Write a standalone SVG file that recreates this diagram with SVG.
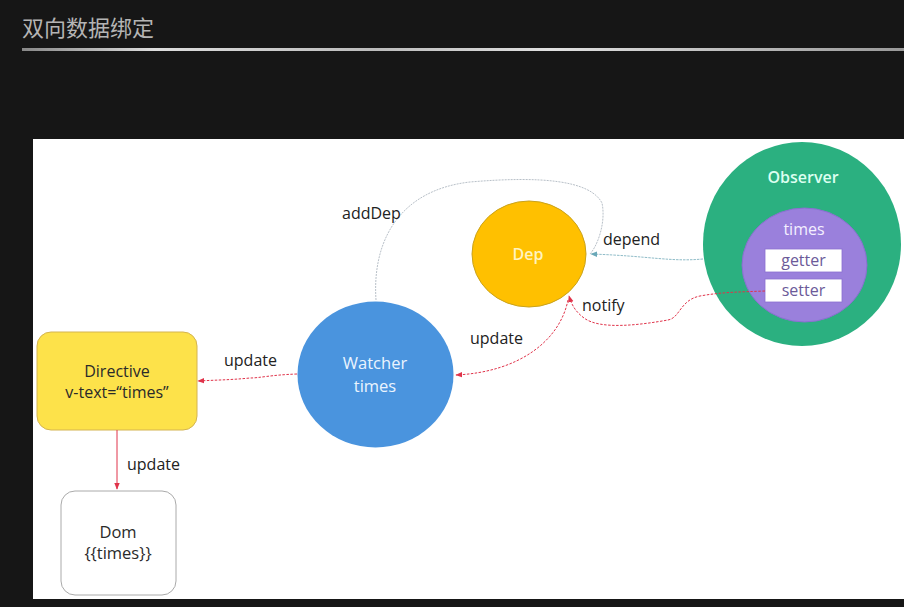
<svg xmlns="http://www.w3.org/2000/svg" width="904" height="607" viewBox="0 0 904 607">
<defs>
<style>
text{font-family:"Open Sans","Liberation Sans","Noto Sans CJK SC",sans-serif;}
.lbl{font-size:16px;fill:#222;}
.ctr{text-anchor:middle;}
.red{fill:none;stroke:#e0334a;stroke-width:1;stroke-dasharray:2.5 1.5;}
</style>
<marker id="ar" viewBox="0 0 10 10" refX="9" refY="5" markerWidth="7" markerHeight="7" orient="auto"><path d="M0,1 L10,5 L0,9 z" fill="#e0334a"/></marker>
<marker id="at" viewBox="0 0 10 10" refX="9" refY="5" markerWidth="7" markerHeight="7" orient="auto"><path d="M0,1 L10,5 L0,9 z" fill="#6aa8b8"/></marker>
<linearGradient id="ln" x1="0" y1="0" x2="1" y2="0">
<stop offset="0" stop-color="#888"/><stop offset="0.15" stop-color="#ddd"/><stop offset="0.4" stop-color="#bbb"/><stop offset="0.6" stop-color="#e0e0e0"/><stop offset="1" stop-color="#999"/>
</linearGradient>
</defs>
<rect width="904" height="607" fill="#161616"/>
<text x="22" y="36" font-size="22" fill="#b4b4b4" font-family="Noto Sans CJK SC, sans-serif">双向数据绑定</text>
<rect x="22" y="48" width="882" height="3" fill="url(#ln)"/>
<rect x="33" y="139" width="871" height="460" fill="#ffffff"/>

<g id="dep">
<ellipse cx="529" cy="254" rx="57" ry="53" fill="#ffc000" stroke="#c9a21c" stroke-width="1"/>
<text class="ctr" x="528" y="260" font-size="16" font-weight="600" fill="#fff3c0">Dep</text>
</g>

<g id="watcher">
<ellipse cx="375.5" cy="374.5" rx="78" ry="73" fill="#4a94de"/>
<text class="ctr" x="375" y="369" font-size="16.5" fill="#eaf4ff">Watcher</text>
<text class="ctr" x="375" y="392" font-size="16.5" fill="#eaf4ff">times</text>
</g>

<g id="observer">
<ellipse cx="802" cy="244" rx="99" ry="102" fill="#2bb080"/>
<text class="ctr" x="803" y="183" font-size="16" font-weight="600" fill="#dcfff0">Observer</text>
<ellipse cx="804.5" cy="265" rx="62.5" ry="57" fill="#9a80dc" stroke="#8a6fd0" stroke-width="1"/>
<text class="ctr" x="804" y="235" font-size="16" fill="#f4efff">times</text>
<g id="getter">
<rect x="765" y="249" width="77" height="23" fill="#ffffff" stroke="#8a6fd0" stroke-width="0.8"/>
<text class="ctr" x="803.5" y="266" font-size="16" fill="#6b5a99">getter</text>
</g>
<g id="setter">
<rect x="765" y="279" width="77" height="23" fill="#ffffff" stroke="#8a6fd0" stroke-width="0.8"/>
<text class="ctr" x="803.5" y="296" font-size="16" fill="#6b5a99">setter</text>
</g>
</g>

<g id="directive">
<rect x="37" y="332" width="160" height="98" rx="14" fill="#fde24a" stroke="#d4b450" stroke-width="1"/>
<text class="ctr" x="117" y="377" font-size="16" fill="#2a2a2a">Directive</text>
<text class="ctr" x="117" y="398" font-size="16" fill="#2a2a2a">v-text=“times”</text>
</g>

<g id="dom">
<rect x="61" y="491" width="115" height="104" rx="14" fill="#ffffff" stroke="#aaaaaa" stroke-width="1"/>
<text class="ctr" x="118" y="538" font-size="16.5" fill="#2a2a2a">Dom</text>
<text class="ctr" x="118" y="559" font-size="16.5" fill="#2a2a2a">{{times}}</text>
</g>

<g id="connectors">
<path d="M376,300 C372,240 400,190 470,182 C540,176 590,180 602,203 C606,222 598,245 590,254" fill="none" stroke="#b8c0c8" stroke-width="1" stroke-dasharray="2 1"/>
<path d="M703,259 C670,262 650,256 591,254" fill="none" stroke="#8fbcc8" stroke-width="1" stroke-dasharray="2.5 1" marker-end="url(#at)"/>
<path d="M765,291 C740,292 722,292 700,296 C680,300 680,318 668,320 C640,325 600,330 584,318 C576,312 572,306 569,296" class="red" marker-end="url(#ar)"/>
<path d="M568,300 C560,340 520,372 456,375" class="red" marker-end="url(#ar)"/>
<path d="M297,374 C270,375 260,378 250,378 C230,380 215,380 198,381" class="red" marker-end="url(#ar)"/>
<path d="M117,430 L117,489" fill="none" stroke="#e0334a" stroke-width="1" marker-end="url(#ar)"/>
<text class="lbl" x="342" y="219">addDep</text>
<text class="lbl" x="603" y="245">depend</text>
<text class="lbl" x="582" y="311">notify</text>
<text class="lbl" x="470" y="344">update</text>
<text class="lbl" x="224" y="366">update</text>
<text class="lbl" x="127" y="470">update</text>
</g>
</svg>
